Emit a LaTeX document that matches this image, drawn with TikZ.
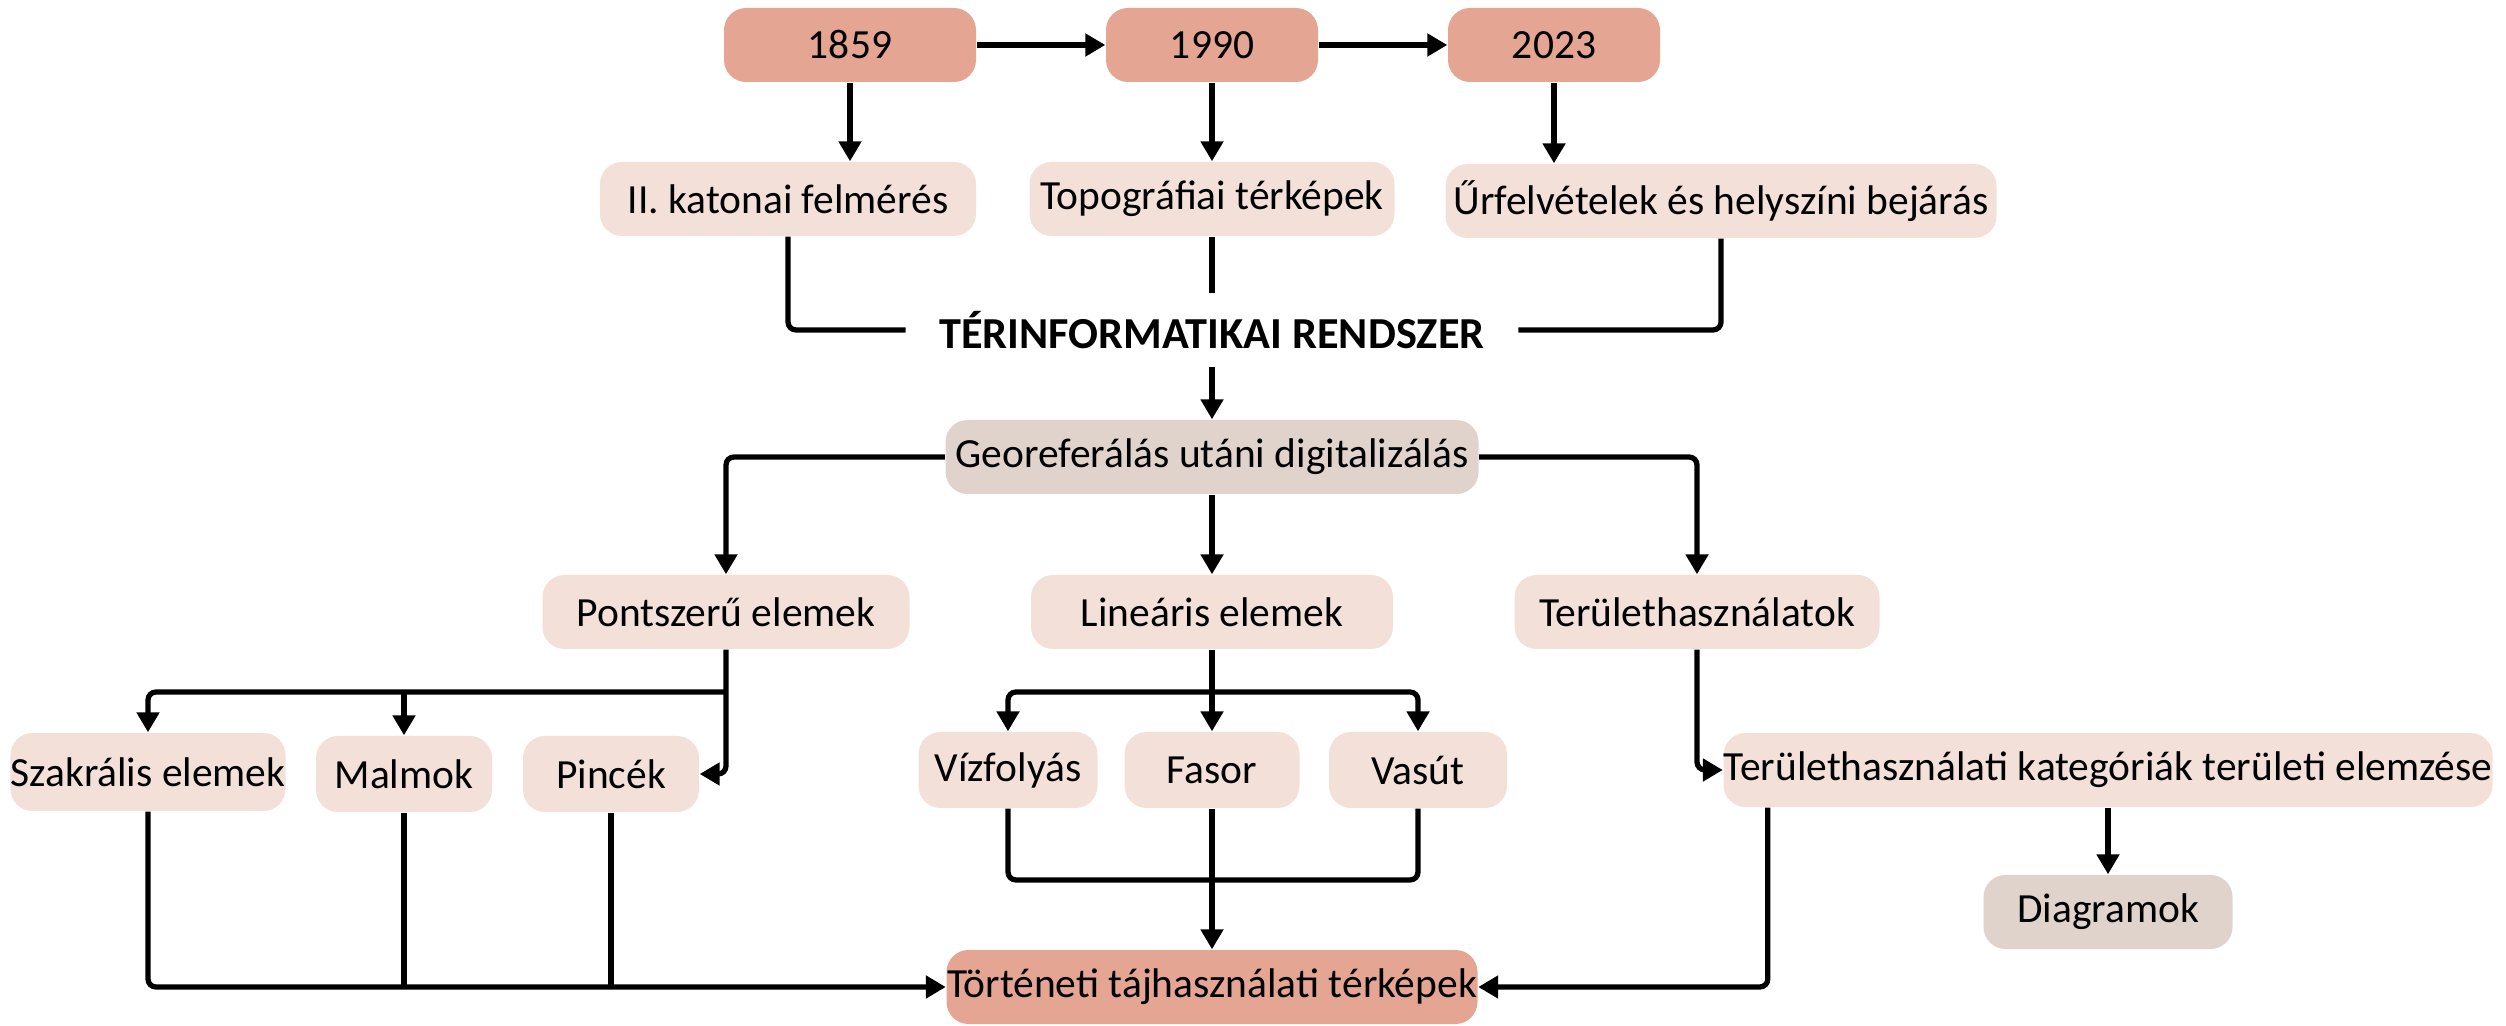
\documentclass[tikz,border=0pt]{standalone}
\usepackage{fontspec}
\setmainfont{Carlito}
\usetikzlibrary{arrows.meta}

\definecolor{yearcol}{HTML}{E4A593}
\definecolor{boxcol}{HTML}{F3E1D9}
\definecolor{stepcol}{HTML}{E0D3CC}

\tikzstyle{every node}=[font=\fontsize{11.8}{14}\selectfont, inner sep=0pt, minimum height=0.74cm]
\tikzstyle{box}=[rounded corners=0.22cm, fill=boxcol]
\tikzstyle{yearbox}=[box, fill=yearcol]
\tikzstyle{stepbox}=[box, fill=stepcol]
\tikzstyle{link}=[line width=1.5pt, rounded corners=0.08cm]
\tikzstyle{arr}=[link, -{Triangle[length=0.2cm,width=0.22cm]}]

\begin{document}
\begin{tikzpicture}
  \useasboundingbox (0,0) rectangle (25.06,-10.26);

  \node[yearbox, minimum width=2.52cm] (y1859) at (8.50,-0.45) {1859};
  \node[yearbox, minimum width=2.12cm] (y1990) at (12.12,-0.45) {1990};
  \node[yearbox, minimum width=2.12cm] (y2023) at (15.54,-0.45) {2023};

  \node[box, minimum width=3.76cm] (katonai) at (7.88,-1.99) {II. katonai felmérés};
  \node[box, minimum width=3.65cm] (topo) at (12.12,-1.99) {Topográfiai térképek};
  \node[box, minimum width=5.51cm] (urf) at (17.21,-2.01) {Űrfelvételek és helyszíni bejárás};

  \node[font=\bfseries\fontsize{12.6}{15}\selectfont, minimum height=0pt,
        inner xsep=0.33cm, inner ysep=0.18cm] (ter) at (12.12,-3.30) {TÉRINFORMATIKAI RENDSZER};

  \node[stepbox, minimum width=5.33cm] (geo) at (12.12,-4.57) {Georeferálás utáni digitalizálás};

  \node[box, minimum width=3.67cm] (pont) at (7.26,-6.12) {Pontszerű elemek};
  \node[box, minimum width=3.62cm] (lin) at (12.12,-6.12) {Lineáris elemek};
  \node[box, minimum width=3.65cm] (teru) at (16.97,-6.12) {Területhasználatok};

  \node[box, minimum width=2.75cm, minimum height=0.78cm] (szak) at (1.48,-7.72) {Szakrális elemek};
  \node[box, minimum width=1.76cm, minimum height=0.76cm] (malm) at (4.04,-7.74) {Malmok};
  \node[box, minimum width=1.76cm, minimum height=0.76cm] (pinc) at (6.11,-7.74) {Pincék};
  \node[box, minimum width=1.79cm, minimum height=0.76cm] (viz) at (10.08,-7.70) {Vízfolyás};
  \node[box, minimum width=1.75cm, minimum height=0.76cm] (fas) at (12.12,-7.70) {Fasor};
  \node[box, minimum width=1.78cm, minimum height=0.76cm] (vas) at (14.18,-7.70) {Vasút};
  \node[box, minimum width=7.69cm] (kat) at (21.08,-7.70) {Területhasználati kategóriák területi elemzése};

  \node[stepbox, minimum width=2.49cm] (diag) at (21.08,-9.12) {Diagramok};
  \node[yearbox, minimum width=5.31cm] (tort) at (12.12,-9.87) {Történeti tájhasználati térképek};

  \coordinate (pbar) at (7.26,-6.92);
  \coordinate (lbar) at (12.12,-6.92);
  \coordinate (lbot) at (12.12,-8.80);

  \draw[arr] (y1859) -- (y1990);
  \draw[arr] (y1990) -- (y2023);
  \draw[arr] (y1859.south) -- (y1859.south |- katonai.north);
  \draw[arr] (y1990) -- (topo);
  \draw[arr] (y2023.south) -- (y2023.south |- urf.north);

  \draw[link] (katonai.south) |- (ter.west);
  \draw[link] (topo) -- (ter);
  \draw[link] (ter.east) -| (urf.south);
  \draw[arr] (ter) -- (geo);

  \draw[arr] (geo.west) -| (pont.north);
  \draw[arr] (geo) -- (lin);
  \draw[arr] (geo.east) -| (teru.north);

  \draw[arr] (pont.south) |- (pinc.east);
  \draw[arr] (pbar) -| (szak.north);
  \draw[arr] (malm.north |- pbar) -- (malm.north);

  \draw[arr] (lin) -- (fas);
  \draw[arr] (lbar) -| (viz.north);
  \draw[arr] (lbar) -| (vas.north);

  \draw[link] (viz.south) |- (lbot) -| (vas.south);
  \draw[arr] (fas) -- (tort);

  \draw[arr] (szak.south) |- (tort.west);
  \draw[link] (malm.south) -- (malm.south |- tort.west);
  \draw[link] (pinc.south) -- (pinc.south |- tort.west);

  \draw[arr] (teru.south) |- (kat.west);
  \draw[arr] (kat) -- (diag);
  \draw[arr] ([xshift=0.45cm]kat.south west) |- (tort.east);
\end{tikzpicture}
\end{document}
